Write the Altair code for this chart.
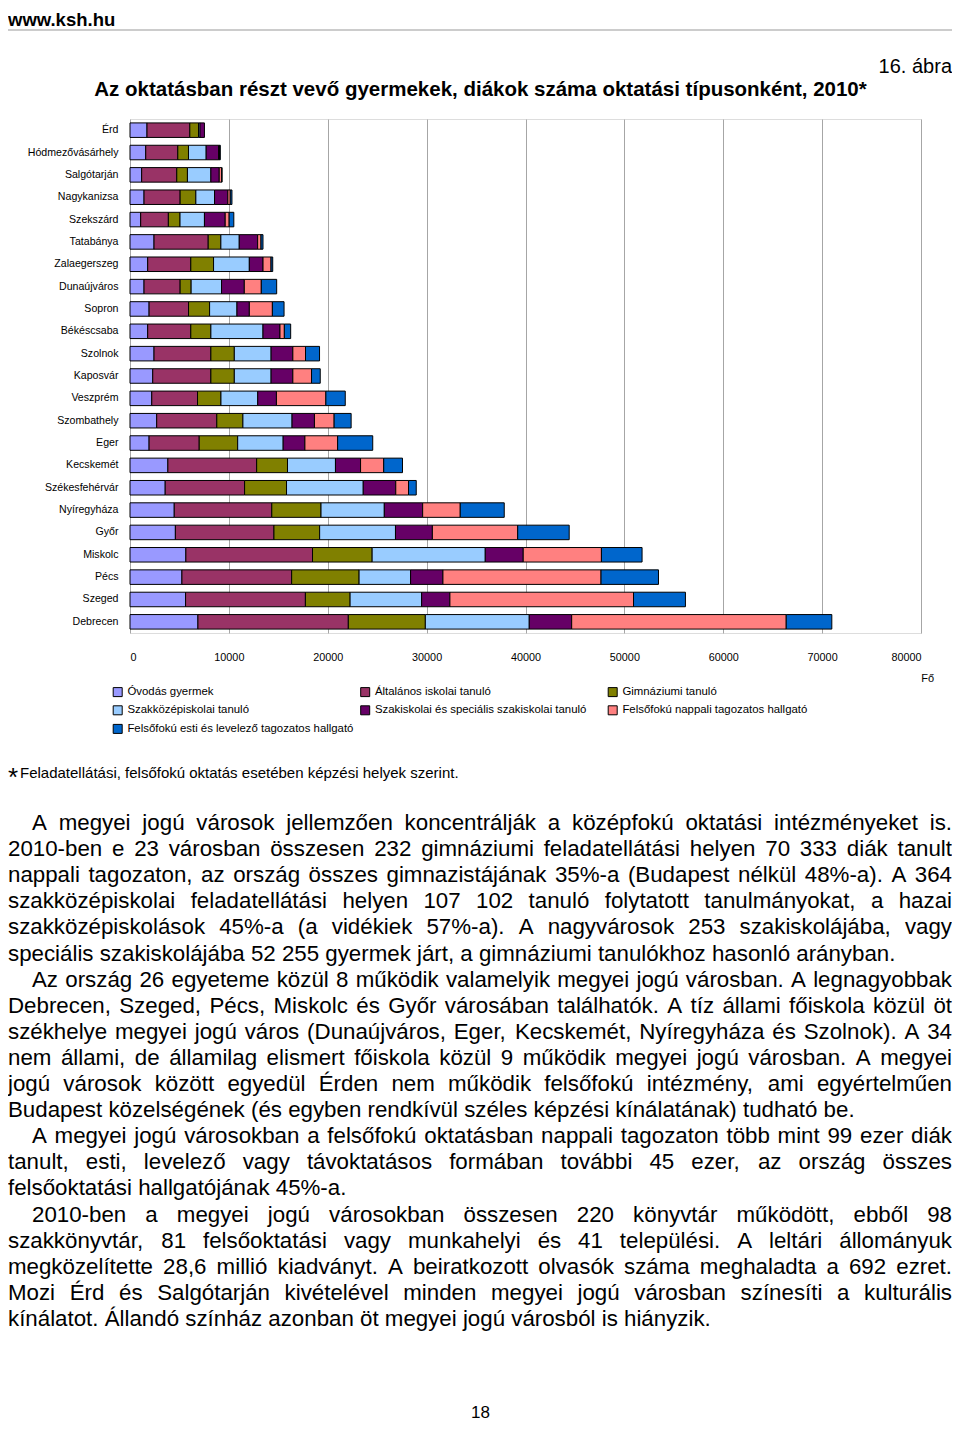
import altair as alt
import pandas as pd

FONT = "Liberation Sans"

# ---------------- data ----------------
cities = ["Érd", "Hódmezővásárhely", "Salgótarján", "Nagykanizsa", "Szekszárd", "Tatabánya",
          "Zalaegerszeg", "Dunaújváros", "Sopron", "Békéscsaba", "Szolnok", "Kaposvár",
          "Veszprém", "Szombathely", "Eger", "Kecskemét", "Székesfehérvár", "Nyíregyháza",
          "Győr", "Miskolc", "Pécs", "Szeged", "Debrecen"]

series = ["Óvodás gyermek", "Általános iskolai tanuló", "Gimnáziumi tanuló",
          "Szakközépiskolai tanuló", "Szakiskolai és speciális szakiskolai tanuló",
          "Felsőfokú nappali tagozatos hallgató", "Felsőfokú esti és levelező tagozatos hallgató"]
colors = ["#9999FF", "#993366", "#808000", "#99CCFF", "#660066", "#FF8080", "#0066CC"]

ovoda = [1720, 1590, 1180, 1420, 1080, 2430, 1790, 1420, 1930, 1790, 2430, 2300,
         2200, 2700, 1930, 3830, 3560, 4475, 4590, 5650, 5250, 5620, 6870]
altalanos = [4330, 3245, 3550, 3650, 2800, 5480, 4360, 3650, 3990, 4360, 5750, 5880,
             4630, 6080, 5070, 8980, 8030, 9865, 9970, 12810, 11100, 12120, 15210]
gimnazium = [880, 1080, 1080, 1590, 1180, 1280, 2300, 1115, 2130, 2030, 2370, 2370,
             2370, 2640, 3890, 3120, 4240, 4980, 4620, 6030, 6820, 4520, 7790]
szakkozep = [150, 1790, 2370, 1890, 2470, 1860, 3620, 3075, 2770, 5270, 3720, 3720,
             3720, 4970, 4600, 4850, 7760, 6400, 7670, 11440, 5210, 7235, 10510]
szakiskola = [450, 1250, 845, 1350, 2100, 1860, 1385, 2300, 1250, 1720, 2200, 2200,
              1890, 2265, 2200, 2540, 3290, 3880, 3730, 3840, 3270, 2860, 4290]
nappali = [0, 100, 250, 240, 400, 340, 810, 1720, 2330, 440, 1280, 1890,
           5000, 1990, 3310, 2340, 1290, 3800, 8630, 7910, 15990, 18570, 21700]
esti = [0, 80, 30, 170, 470, 200, 170, 1555, 1180, 640, 1420, 880,
        1960, 1720, 3550, 1900, 780, 4450, 5210, 4110, 5810, 5250, 4610]

x_ticks = [0, 10000, 20000, 30000, 40000, 50000, 60000, 70000, 80000]

header_text = "www.ksh.hu"
figure_no = "16. ábra"
title_text = "Az oktatásban részt vevő gyermekek, diákok száma oktatási típusonként, 2010*"
unit_text = "Fő"
footnote_star = "*"
footnote_text = "Feladatellátási, felsőfokú oktatás esetében képzési helyek szerint."
page_no = "18"

paragraphs = [
    ["A megyei jogú városok jellemzően koncentrálják a középfokú oktatási intézményeket is.",
     "2010-ben e 23 városban összesen 232 gimnáziumi feladatellátási helyen 70 333 diák tanult",
     "nappali tagozaton, az ország összes gimnazistájának 35%-a (Budapest nélkül 48%-a). A 364",
     "szakközépiskolai feladatellátási helyen 107 102 tanuló folytatott tanulmányokat, a hazai",
     "szakközépiskolások 45%-a (a vidékiek 57%-a). A nagyvárosok 253 szakiskolájába, vagy",
     "speciális szakiskolájába 52 255 gyermek járt, a gimnáziumi tanulókhoz hasonló arányban."],
    ["Az ország 26 egyeteme közül 8 működik valamelyik megyei jogú városban. A legnagyobbak",
     "Debrecen, Szeged, Pécs, Miskolc és Győr városában találhatók. A tíz állami főiskola közül öt",
     "székhelye megyei jogú város (Dunaújváros, Eger, Kecskemét, Nyíregyháza és Szolnok). A 34",
     "nem állami, de államilag elismert főiskola közül 9 működik megyei jogú városban. A megyei",
     "jogú városok között egyedül Érden nem működik felsőfokú intézmény, ami egyértelműen",
     "Budapest közelségének (és egyben rendkívül széles képzési kínálatának) tudható be."],
    ["A megyei jogú városokban a felsőfokú oktatásban nappali tagozaton több mint 99 ezer diák",
     "tanult, esti, levelező vagy távoktatásos formában további 45 ezer, az ország összes",
     "felsőoktatási hallgatójának 45%-a."],
    ["2010-ben a megyei jogú városokban összesen 220 könyvtár működött, ebből 98",
     "szakkönyvtár, 81 felsőoktatási vagy munkahelyi és 41 települési. A leltári állományuk",
     "megközelítette 28,6 millió kiadványt. A beiratkozott olvasók száma meghaladta a 692 ezret.",
     "Mozi Érd és Salgótarján kivételével minden megyei jogú városban színesíti a kulturális",
     "kínálatot. Állandó színház azonban öt megyei jogú városból is hiányzik."],
]

# ---------------- layout helpers ----------------
PX0, PY0 = 130, 119          # page position of plot origin
PLOT_W, PLOT_H = 791, 514


def cx(px):
    return px - PX0


def cy(py):
    return py - PY0


# Arial / Liberation Sans advance widths (1/1000 em)
_W = {" ": 278, ",": 278, ".": 278, "-": 333, "%": 889, "(": 333, ")": 333, "*": 389,
      ":": 278, ";": 278}
for ch in "0123456789":
    _W[ch] = 556
for ch, w in zip("abcdefghijklmnopqrstuvwxyz",
                 [556, 556, 500, 556, 556, 278, 556, 556, 222, 222, 500, 222, 833, 556, 556,
                  556, 556, 333, 500, 278, 556, 500, 722, 500, 500, 500]):
    _W[ch] = w
for ch, w in zip("ABCDEFGHIJKLMNOPQRSTUVWXYZ",
                 [667, 667, 722, 722, 667, 611, 778, 722, 278, 500, 667, 556, 833, 722, 778,
                  667, 778, 722, 667, 611, 722, 667, 944, 667, 667, 611]):
    _W[ch] = w
_W.update({"á": 556, "é": 556, "í": 278, "ó": 556, "ö": 556, "ő": 556, "ú": 556, "ü": 556,
           "ű": 556, "Á": 667, "É": 667, "Í": 278, "Ó": 778, "Ö": 778, "Ő": 778, "Ú": 722,
           "Ü": 722, "Ű": 722})


def text_width(s, size):
    return sum(_W.get(c, 556) for c in s) * size / 1000.0


BODY_SIZE = 22.3
LEFT_PX, INDENT_PX, RIGHT_PX = 8, 32, 952
LINE0_BASE, LINE_STEP = 830, 26.1

words = []
line_no = 0
for para in paragraphs:
    for i, line in enumerate(para):
        left = INDENT_PX if i == 0 else LEFT_PX
        base = LINE0_BASE + line_no * LINE_STEP
        if i == len(para) - 1:
            words.append({"x": cx(left), "y": cy(base), "t": line})
        else:
            toks = line.split(" ")
            widths = [text_width(t, BODY_SIZE) for t in toks]
            gap = (RIGHT_PX - left - sum(widths)) / (len(toks) - 1)
            pos = left
            for t, w in zip(toks, widths):
                words.append({"x": cx(pos), "y": cy(base), "t": t})
                pos += w + gap
        line_no += 1

# ---------------- bar data ----------------
cols = [ovoda, altalanos, gimnazium, szakkozep, szakiskola, nappali, esti]
rows = []
for si, (name, vals) in enumerate(zip(series, cols)):
    for city, v in zip(cities, vals):
        if v > 0:
            rows.append({"city": city, "series": name, "si": si, "value": v})
df = pd.DataFrame(rows)

bars = alt.Chart(df).mark_bar(stroke="black", strokeWidth=1).encode(
    x=alt.X("value:Q", stack="zero",
            scale=alt.Scale(domain=[0, 80000], nice=False, zero=True),
            axis=alt.Axis(values=x_ticks, title=None, grid=True, gridColor="#A6A6A6",
                          ticks=False, domain=False, labelPadding=18, format="d",
                          labelFontSize=10.8, labelFont=FONT, labelColor="black")),
    y=alt.Y("city:N", sort=cities,
            scale=alt.Scale(paddingInner=0.35, paddingOuter=0.175),
            axis=alt.Axis(title=None, ticks=False, domain=False, grid=False,
                          labelPadding=12, labelFontSize=10.6, labelFont=FONT,
                          labelColor="black")),
    color=alt.Color("series:N", scale=alt.Scale(domain=series, range=colors),
                    legend=alt.Legend(orient="none", legendX=-18, legendY=567, columns=3,
                                      direction="horizontal", title=None,
                                      symbolType="square", symbolSize=81,
                                      symbolStrokeColor="black", symbolStrokeWidth=1,
                                      symbolOpacity=1, labelFontSize=11.4, labelFont=FONT,
                                      labelColor="black", labelOffset=4, rowPadding=4.6,
                                      columnPadding=4.5, gridAlign="all", padding=0,
                                      labelLimit=400)),
    order=alt.Order("si:Q", sort="ascending"),
)


def text_layer(records, size, weight="normal", align="left"):
    return alt.Chart(pd.DataFrame(records)).mark_text(
        align=align, baseline="alphabetic", fontSize=size, fontWeight=weight,
        font=FONT, color="black"
    ).encode(
        x=alt.X("x:Q", scale=None, axis=None),
        y=alt.Y("y:Q", scale=None, axis=None),
        text="t:N",
    )


header = text_layer([{"x": cx(8), "y": cy(25.5), "t": header_text}], 18.5, "bold")
rule = alt.Chart(pd.DataFrame({"a": [0]})).mark_rule(color="#999999", strokeWidth=1).encode(
    x=alt.value(cx(8)), x2=alt.value(cx(952)), y=alt.value(cy(30)))
fig = text_layer([{"x": cx(952), "y": cy(73), "t": figure_no}], 20, align="right")
title = text_layer([{"x": cx(480.5), "y": cy(96), "t": title_text}], 20.5, "bold", "center")
unit = text_layer([{"x": cx(934), "y": cy(682), "t": unit_text}], 11, align="right")
star = text_layer([{"x": cx(8), "y": cy(786), "t": footnote_star}], 26)
foot = text_layer([{"x": cx(20), "y": cy(778), "t": footnote_text}], 15)
body = text_layer(words, BODY_SIZE)
pnum = text_layer([{"x": cx(480.5), "y": cy(1418), "t": page_no}], 17, align="center")

chart = alt.layer(bars, header, rule, fig, title, unit, star, foot, body, pnum).properties(
    width=PLOT_W, height=PLOT_H,
    autosize=alt.AutoSizeParams(type="none"),
    padding={"left": 122, "top": 111, "right": 31, "bottom": 791},
).configure_view(stroke="#A6A6A6", strokeWidth=1).configure(background="white")

chart.save("out.html", embed_options={"renderer": "svg", "actions": False})
